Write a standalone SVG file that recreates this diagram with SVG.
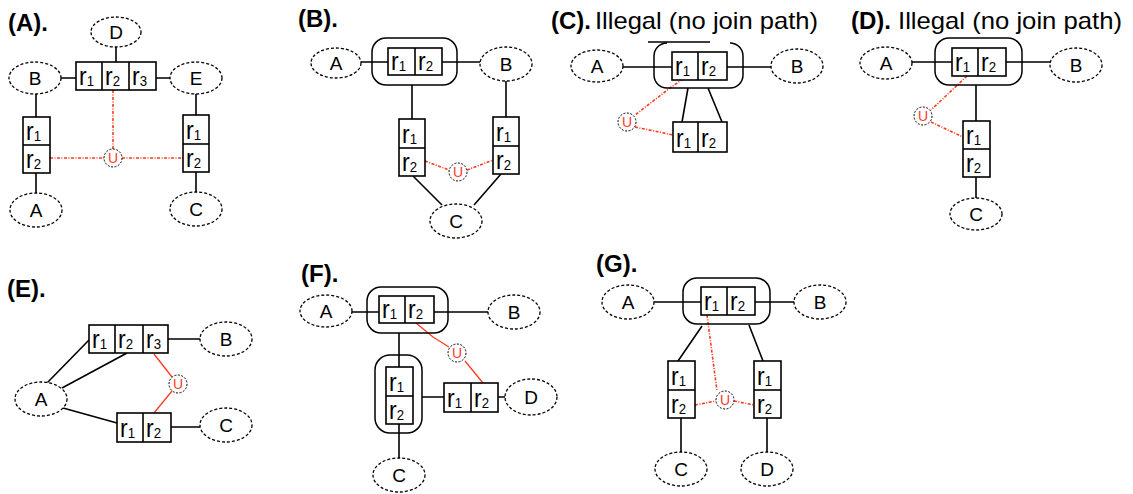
<svg xmlns="http://www.w3.org/2000/svg" width="1133" height="494" viewBox="0 0 1133 494">
<style>
text{font-family:"Liberation Sans",Arial,sans-serif}
.el{fill:#fff;stroke:#000;stroke-width:1.3;stroke-dasharray:3 2}
.bx{fill:#fff;stroke:#000;stroke-width:1.6}
.sp{stroke:#000;stroke-width:1.6}
.rr{fill:none;stroke:#000;stroke-width:1.5}
.ln{fill:none;stroke:#000;stroke-width:1.6}
.rd{fill:none;stroke:#ff3b1f;stroke-width:1.6;stroke-dasharray:3 1.5 1 1.5}
.rs{fill:none;stroke:#ff3b1f;stroke-width:1.3}
.uc{fill:#fff;stroke:#000;stroke-width:1;stroke-dasharray:2 1.5}
.ut{fill:#ff3b1f;font-size:14px;text-anchor:middle}
.et{font-size:19px;text-anchor:middle;fill:#000}
.r{font-size:26px;fill:#000}
.s{font-size:15px}
.hd{font-size:24px;font-weight:bold;fill:#000}
.il{font-size:24px;fill:#000}
</style>
<rect width="1133" height="494" fill="#fff"/>

<!-- panel titles -->
<g id="titles">
<text class="hd" x="8" y="31">(A).</text>
<text class="hd" x="298" y="27">(B).</text>
<text class="hd" x="551" y="29">(C).</text>
<text class="il" x="595" y="29" textLength="223" lengthAdjust="spacingAndGlyphs">Illegal (no join path)</text>
<text class="hd" x="851" y="29">(D).</text>
<text class="il" x="898" y="29" textLength="224" lengthAdjust="spacingAndGlyphs">Illegal (no join path)</text>
<text class="hd" x="7" y="297">(E).</text>
<text class="hd" x="301" y="282">(F).</text>
<text class="hd" x="596" y="272">(G).</text>
</g>

<!-- connectors -->
<g id="connectors">
<!-- A -->
<path class="ln" d="M116 47V62M61 78H76M156 78H170M36 94V117M36 173V193M196 94V115M196 172V192"/>
<path class="rd" d="M113 90V149M50 158H104M122 158H183"/>
<!-- B -->
<path class="ln" d="M361 62H388M442 62H480M412 85V119M506 81V117M413 176L442 205M501 174L474 205"/>
<path class="rd" d="M425 161L449 170M467 170L493 160"/>
<!-- C -->
<path class="ln" d="M623 67H672M727 67H771M688 88L682 122M708 88L722 122M648 42H710"/>
<path class="rd" d="M683 79L670 88L635 115M635 127L673 135"/>
<!-- D -->
<path class="ln" d="M912 62H952M1006 62H1050M976 85V121M976 177V198"/>
<path class="rd" d="M967 76L931 110M931 122L963 137"/>
<!-- E -->
<path class="ln" d="M168 339H200M47 383L89 340M62 388L127 353M63 408L117 423M171 427H200"/>
<path class="rs" d="M154 354L172 377M172 391L154 413"/>
<!-- F -->
<path class="ln" d="M352 312H379M434 312H488M399 333V367M399 424V458M422 397H444M498 397H505"/>
<path class="rs" d="M416 323L433 337L449 347M465 361L483 383"/>
<!-- G -->
<path class="ln" d="M654 302H701M755 302H794M702 326L678 361M749 325L763 361M681 418V452M767 418V452"/>
<path class="rd" d="M707 315L717 391M695 405L716 401M734 401L754 405"/>
</g>

<!-- ===== Panel A ===== -->
<g id="A-D"><ellipse class="el" cx="116" cy="32" rx="25" ry="15"/><text class="et" x="116" y="39">D</text></g>
<g id="A-B"><ellipse class="el" cx="35" cy="78" rx="26" ry="16"/><text class="et" x="35" y="85">B</text></g>
<g id="A-E"><ellipse class="el" cx="196" cy="78" rx="26" ry="16"/><text class="et" x="196" y="85">E</text></g>
<g id="A-A"><ellipse class="el" cx="36" cy="210" rx="26" ry="17"/><text class="et" x="36" y="217">A</text></g>
<g id="A-C"><ellipse class="el" cx="196" cy="209" rx="26" ry="17"/><text class="et" x="196" y="216">C</text></g>
<g id="A-R3">
<rect class="bx" x="76" y="62" width="80" height="28"/><path class="sp" d="M102 62V90M129 62V90"/>
<text class="r" x="79" y="85" textLength="15" lengthAdjust="spacingAndGlyphs">r<tspan class="s" dy="1">1</tspan></text>
<text class="r" x="105" y="85" textLength="15" lengthAdjust="spacingAndGlyphs">r<tspan class="s" dy="1">2</tspan></text>
<text class="r" x="132" y="85" textLength="15" lengthAdjust="spacingAndGlyphs">r<tspan class="s" dy="1">3</tspan></text>
</g>
<g id="A-RL">
<rect class="bx" x="23" y="117" width="27" height="56"/><path class="sp" d="M23 145H50"/>
<text class="r" x="26" y="140" textLength="15" lengthAdjust="spacingAndGlyphs">r<tspan class="s" dy="1">1</tspan></text>
<text class="r" x="26" y="168" textLength="15" lengthAdjust="spacingAndGlyphs">r<tspan class="s" dy="1">2</tspan></text>
</g>
<g id="A-RR">
<rect class="bx" x="183" y="115" width="26" height="57"/><path class="sp" d="M183 144H209"/>
<text class="r" x="186" y="139" textLength="15" lengthAdjust="spacingAndGlyphs">r<tspan class="s" dy="1">1</tspan></text>
<text class="r" x="186" y="167" textLength="15" lengthAdjust="spacingAndGlyphs">r<tspan class="s" dy="1">2</tspan></text>
</g>
<g id="A-U"><circle class="uc" cx="113" cy="158" r="9"/><text class="ut" x="113" y="163">U</text></g>

<!-- ===== Panel B ===== -->
<g id="B-A"><ellipse class="el" cx="336" cy="63" rx="25" ry="15"/><text class="et" x="336" y="70">A</text></g>
<g id="B-B"><ellipse class="el" cx="506" cy="64" rx="26" ry="17"/><text class="et" x="506" y="71">B</text></g>
<g id="B-C"><ellipse class="el" cx="456" cy="221" rx="26" ry="17"/><text class="et" x="456" y="228">C</text></g>
<g id="B-R">
<rect class="rr" x="372" y="38" width="85" height="47" rx="14"/>
<rect class="bx" x="388" y="48" width="54" height="27"/><path class="sp" d="M415 48V75"/>
<text class="r" x="391" y="70" textLength="15" lengthAdjust="spacingAndGlyphs">r<tspan class="s" dy="1">1</tspan></text>
<text class="r" x="418" y="70" textLength="15" lengthAdjust="spacingAndGlyphs">r<tspan class="s" dy="1">2</tspan></text>
</g>
<g id="B-RL">
<rect class="bx" x="399" y="119" width="26" height="57"/><path class="sp" d="M399 148H425"/>
<text class="r" x="402" y="143" textLength="15" lengthAdjust="spacingAndGlyphs">r<tspan class="s" dy="1">1</tspan></text>
<text class="r" x="402" y="171" textLength="15" lengthAdjust="spacingAndGlyphs">r<tspan class="s" dy="1">2</tspan></text>
</g>
<g id="B-RR">
<rect class="bx" x="493" y="117" width="26" height="57"/><path class="sp" d="M493 146H519"/>
<text class="r" x="496" y="141" textLength="15" lengthAdjust="spacingAndGlyphs">r<tspan class="s" dy="1">1</tspan></text>
<text class="r" x="496" y="169" textLength="15" lengthAdjust="spacingAndGlyphs">r<tspan class="s" dy="1">2</tspan></text>
</g>
<g id="B-U"><circle class="uc" cx="458" cy="172" r="9"/><text class="ut" x="458" y="177">U</text></g>

<!-- ===== Panel C ===== -->
<g id="C-A"><ellipse class="el" cx="597" cy="66" rx="26" ry="16"/><text class="et" x="597" y="73">A</text></g>
<g id="C-B"><ellipse class="el" cx="797" cy="66" rx="26" ry="17"/><text class="et" x="797" y="73">B</text></g>
<g id="C-R">
<path class="rr" d="M667 43A13 13 0 0 0 654 56V75A13 13 0 0 0 667 88H730A13 13 0 0 0 743 75V56A13 13 0 0 0 730 43"/>
<rect class="bx" x="672" y="52" width="55" height="28"/><path class="sp" d="M698 52V80"/>
<text class="r" x="675" y="75" textLength="15" lengthAdjust="spacingAndGlyphs">r<tspan class="s" dy="1">1</tspan></text>
<text class="r" x="701" y="75" textLength="15" lengthAdjust="spacingAndGlyphs">r<tspan class="s" dy="1">2</tspan></text>
</g>
<g id="C-R2">
<rect class="bx" x="673" y="122" width="54" height="30"/><path class="sp" d="M698 122V152"/>
<text class="r" x="676" y="147" textLength="15" lengthAdjust="spacingAndGlyphs">r<tspan class="s" dy="1">1</tspan></text>
<text class="r" x="701" y="147" textLength="15" lengthAdjust="spacingAndGlyphs">r<tspan class="s" dy="1">2</tspan></text>
</g>
<g id="C-U"><circle class="uc" cx="627" cy="122" r="9"/><text class="ut" x="627" y="127">U</text></g>

<!-- ===== Panel D ===== -->
<g id="D-A"><ellipse class="el" cx="886" cy="63" rx="26" ry="16"/><text class="et" x="886" y="70">A</text></g>
<g id="D-B"><ellipse class="el" cx="1076" cy="65" rx="26" ry="17"/><text class="et" x="1076" y="72">B</text></g>
<g id="D-C"><ellipse class="el" cx="976" cy="214" rx="26" ry="16"/><text class="et" x="976" y="221">C</text></g>
<g id="D-R">
<rect class="rr" x="935" y="38" width="87" height="47" rx="14"/>
<rect class="bx" x="952" y="48" width="54" height="28"/><path class="sp" d="M978 48V76"/>
<text class="r" x="955" y="71" textLength="15" lengthAdjust="spacingAndGlyphs">r<tspan class="s" dy="1">1</tspan></text>
<text class="r" x="981" y="71" textLength="15" lengthAdjust="spacingAndGlyphs">r<tspan class="s" dy="1">2</tspan></text>
</g>
<g id="D-R2">
<rect class="bx" x="963" y="121" width="27" height="56"/><path class="sp" d="M963 149H990"/>
<text class="r" x="966" y="144" textLength="15" lengthAdjust="spacingAndGlyphs">r<tspan class="s" dy="1">1</tspan></text>
<text class="r" x="966" y="172" textLength="15" lengthAdjust="spacingAndGlyphs">r<tspan class="s" dy="1">2</tspan></text>
</g>
<g id="D-U"><circle class="uc" cx="923" cy="116" r="9"/><text class="ut" x="923" y="121">U</text></g>

<!-- ===== Panel E ===== -->
<g id="E-B"><ellipse class="el" cx="226" cy="339" rx="26" ry="17"/><text class="et" x="226" y="346">B</text></g>
<g id="E-A"><ellipse class="el" cx="41" cy="399" rx="26" ry="17"/><text class="et" x="41" y="406">A</text></g>
<g id="E-C"><ellipse class="el" cx="226" cy="425" rx="26" ry="17"/><text class="et" x="226" y="432">C</text></g>
<g id="E-R3">
<rect class="bx" x="89" y="325" width="79" height="28"/><path class="sp" d="M115 325V353M143 325V353"/>
<text class="r" x="92" y="348" textLength="15" lengthAdjust="spacingAndGlyphs">r<tspan class="s" dy="1">1</tspan></text>
<text class="r" x="118" y="348" textLength="15" lengthAdjust="spacingAndGlyphs">r<tspan class="s" dy="1">2</tspan></text>
<text class="r" x="146" y="348" textLength="15" lengthAdjust="spacingAndGlyphs">r<tspan class="s" dy="1">3</tspan></text>
</g>
<g id="E-R2">
<rect class="bx" x="117" y="413" width="54" height="29"/><path class="sp" d="M143 413V442"/>
<text class="r" x="120" y="437" textLength="15" lengthAdjust="spacingAndGlyphs">r<tspan class="s" dy="1">1</tspan></text>
<text class="r" x="146" y="437" textLength="15" lengthAdjust="spacingAndGlyphs">r<tspan class="s" dy="1">2</tspan></text>
</g>
<g id="E-U"><circle class="uc" cx="178" cy="384" r="9"/><text class="ut" x="178" y="389">U</text></g>

<!-- ===== Panel F ===== -->
<g id="F-A"><ellipse class="el" cx="326" cy="311" rx="26" ry="16"/><text class="et" x="326" y="318">A</text></g>
<g id="F-B"><ellipse class="el" cx="514" cy="312" rx="26" ry="17"/><text class="et" x="514" y="319">B</text></g>
<g id="F-C"><ellipse class="el" cx="399" cy="475" rx="26" ry="17"/><text class="et" x="399" y="482">C</text></g>
<g id="F-D"><ellipse class="el" cx="531" cy="397" rx="26" ry="18"/><text class="et" x="531" y="404">D</text></g>
<g id="F-R">
<rect class="rr" x="367" y="287" width="81" height="46" rx="14"/>
<rect class="bx" x="379" y="296" width="55" height="27"/><path class="sp" d="M405 296V323"/>
<text class="r" x="382" y="318" textLength="15" lengthAdjust="spacingAndGlyphs">r<tspan class="s" dy="1">1</tspan></text>
<text class="r" x="408" y="318" textLength="15" lengthAdjust="spacingAndGlyphs">r<tspan class="s" dy="1">2</tspan></text>
</g>
<g id="F-RV">
<rect class="rr" x="375" y="355" width="47" height="78" rx="15"/>
<rect class="bx" x="386" y="367" width="27" height="57"/><path class="sp" d="M386 396H413"/>
<text class="r" x="389" y="391" textLength="15" lengthAdjust="spacingAndGlyphs">r<tspan class="s" dy="1">1</tspan></text>
<text class="r" x="389" y="419" textLength="15" lengthAdjust="spacingAndGlyphs">r<tspan class="s" dy="1">2</tspan></text>
</g>
<g id="F-R2">
<rect class="bx" x="444" y="383" width="54" height="29"/><path class="sp" d="M471 383V412"/>
<text class="r" x="447" y="407" textLength="15" lengthAdjust="spacingAndGlyphs">r<tspan class="s" dy="1">1</tspan></text>
<text class="r" x="474" y="407" textLength="15" lengthAdjust="spacingAndGlyphs">r<tspan class="s" dy="1">2</tspan></text>
</g>
<g id="F-U"><circle class="uc" cx="457" cy="353" r="9"/><text class="ut" x="457" y="358">U</text></g>

<!-- ===== Panel G ===== -->
<g id="G-A"><ellipse class="el" cx="628" cy="302" rx="26" ry="17"/><text class="et" x="628" y="309">A</text></g>
<g id="G-B"><ellipse class="el" cx="820" cy="302" rx="26" ry="17"/><text class="et" x="820" y="309">B</text></g>
<g id="G-C"><ellipse class="el" cx="681" cy="469" rx="26" ry="17"/><text class="et" x="681" y="476">C</text></g>
<g id="G-D"><ellipse class="el" cx="767" cy="469" rx="26" ry="17"/><text class="et" x="767" y="476">D</text></g>
<g id="G-R">
<rect class="rr" x="683" y="278" width="87" height="46" rx="14"/>
<rect class="bx" x="701" y="287" width="54" height="28"/><path class="sp" d="M727 287V315"/>
<text class="r" x="704" y="310" textLength="15" lengthAdjust="spacingAndGlyphs">r<tspan class="s" dy="1">1</tspan></text>
<text class="r" x="730" y="310" textLength="15" lengthAdjust="spacingAndGlyphs">r<tspan class="s" dy="1">2</tspan></text>
</g>
<g id="G-RL">
<rect class="bx" x="668" y="361" width="27" height="57"/><path class="sp" d="M668 390H695"/>
<text class="r" x="671" y="385" textLength="15" lengthAdjust="spacingAndGlyphs">r<tspan class="s" dy="1">1</tspan></text>
<text class="r" x="671" y="413" textLength="15" lengthAdjust="spacingAndGlyphs">r<tspan class="s" dy="1">2</tspan></text>
</g>
<g id="G-RR">
<rect class="bx" x="754" y="361" width="27" height="57"/><path class="sp" d="M754 390H781"/>
<text class="r" x="757" y="385" textLength="15" lengthAdjust="spacingAndGlyphs">r<tspan class="s" dy="1">1</tspan></text>
<text class="r" x="757" y="413" textLength="15" lengthAdjust="spacingAndGlyphs">r<tspan class="s" dy="1">2</tspan></text>
</g>
<g id="G-U"><circle class="uc" cx="725" cy="400" r="9"/><text class="ut" x="725" y="405">U</text></g>
</svg>
